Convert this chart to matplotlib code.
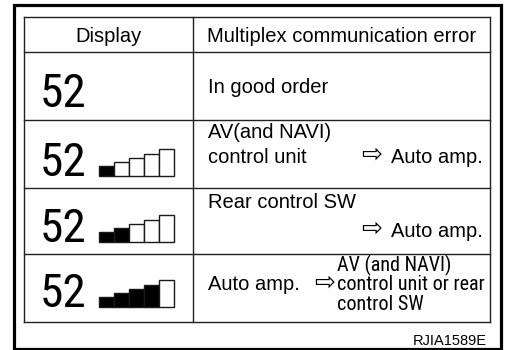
import os
import matplotlib
matplotlib.use('Agg')
import matplotlib.pyplot as plt
from matplotlib import font_manager
from matplotlib.font_manager import FontProperties
from matplotlib.patches import Rectangle

# table content
header = ["Display", "Multiplex communication error"]
display_value = "52"
filled_bars = [None, 1, 2, 4]          # black bars in the level icon (row 1 has no icon)
icon_bar_heights = [10.5, 14, 18, 22, 27]
row1_text = "In good order"
row2_lines = ["AV(and NAVI)", "control unit"]
row3_lines = ["Rear control SW"]
row4_source = "Auto amp."
row4_targets = ["AV (and NAVI)", "control unit or rear", "control SW"]
target_amp = "Auto amp."
arrow = "\u21e8"
code_label = "RJIA1589E"


def pick_font(candidates):
    names = {f.name for f in font_manager.fontManager.ttflist}
    for c in candidates:
        if c in names:
            return c
    return 'DejaVu Sans'


def find_condensed():
    files = [f.fname for f in font_manager.fontManager.ttflist]
    prefs = ['liberationsansnarrow-regular', 'robotocondensed-regular',
             'notosans-condensed.', 'opensans-condensed', 'dejavusanscondensed.']
    for p in prefs:
        for fn in files:
            if p in os.path.basename(fn).lower():
                return fn
    for fn in files:
        b = os.path.basename(fn).lower()
        if ('condensed' in b or 'narrow' in b) and not any(
                w in b for w in ('bold', 'italic', 'oblique', 'extra', 'semi', 'light', 'thin', 'black', 'medium')):
            return fn
    return None


SANS = pick_font(['Liberation Sans', 'Arial', 'DejaVu Sans'])
cond_file = find_condensed()


def narrow(size):
    if cond_file:
        return FontProperties(fname=cond_file, size=size)
    return FontProperties(family=SANS, size=size * 0.8)


W, H = 506, 350
fig = plt.figure(figsize=(W / 100, H / 100), dpi=100)
ax = fig.add_axes([0, 0, 1, 1])
ax.set_xlim(0, W)
ax.set_ylim(H, 0)
ax.axis('off')

# outer frame
ax.add_patch(Rectangle((13.7, 5.3), 487, 343.5, fill=False, lw=2.3, ec='black'))

# table grid
left, right, split = 24, 490, 193
row_lines = [17, 52, 120, 188, 254, 322]
for y in row_lines:
    ax.plot([left, right], [y, y], color='#222222', lw=1.0)
for x in [left, split, right]:
    ax.plot([x, x], [row_lines[0], row_lines[-1]], color='#222222', lw=1.0)

fs = 14.5
ax.text((left + split) / 2, 42, header[0], fontsize=fs, family=SANS, ha='center', va='baseline')
ax.text((split + right) / 2, 42, header[1], fontsize=fs, family=SANS, ha='center', va='baseline')

# display column: "52" and level icon
baselines = [107, 176, 242, 307]
bar_w = 15
bar_x0 = 99.5
for i, base in enumerate(baselines):
    ax.text(40, base, display_value, fontproperties=narrow(34), ha='left', va='baseline')
    nfill = filled_bars[i]
    if nfill is None:
        continue
    xs = [bar_x0 + bar_w * (k + 0.5) for k in range(len(icon_bar_heights))]
    colors = ['black' if k < nfill else 'white' for k in range(len(icon_bar_heights))]
    ax.bar(xs, [-h for h in icon_bar_heights], width=bar_w, bottom=base,
           color=colors, edgecolor='#1a1a1a', linewidth=1.0)

tx = 208
# row 1
ax.text(tx, 93, row1_text, fontsize=fs, family=SANS, va='baseline')
# row 2
ax.text(tx, 138, row2_lines[0], fontsize=fs, family=SANS, va='baseline')
ax.text(tx, 163, row2_lines[1], fontsize=fs, family=SANS, va='baseline')
ax.text(382, 162, arrow, fontsize=18, family='DejaVu Sans', ha='right', va='baseline')
ax.text(483, 163, target_amp, fontsize=fs, family=SANS, ha='right', va='baseline')
# row 3
ax.text(tx, 208, row3_lines[0], fontsize=fs, family=SANS, va='baseline')
ax.text(382, 236, arrow, fontsize=18, family='DejaVu Sans', ha='right', va='baseline')
ax.text(483, 237, target_amp, fontsize=fs, family=SANS, ha='right', va='baseline')
# row 4
ax.text(tx, 290, row4_source, fontsize=fs, family=SANS, va='baseline')
ax.text(335, 290, arrow, fontsize=18, family='DejaVu Sans', ha='right', va='baseline')
for j, line in enumerate(row4_targets):
    ax.text(337, 271 + 19.5 * j, line, fontproperties=narrow(14.5), va='baseline')

ax.text(487, 345, code_label, fontsize=10.5, family=SANS, ha='right', va='baseline')

fig.savefig('out.png', dpi=100)
